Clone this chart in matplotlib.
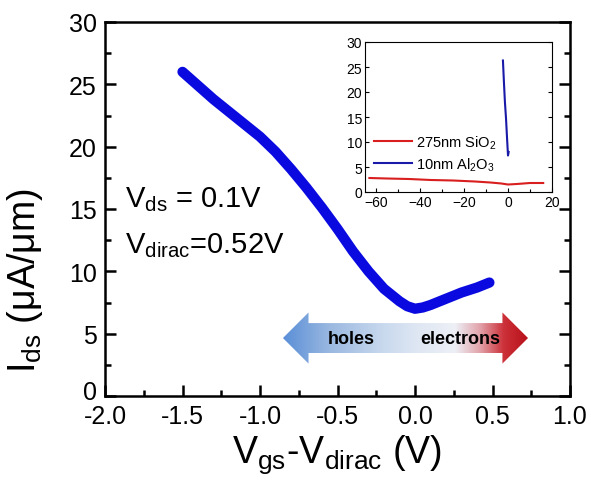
import numpy as np
import matplotlib
matplotlib.use("Agg")
from matplotlib import pyplot as plt
import matplotlib.transforms as mtransforms
from matplotlib.patches import Polygon
from matplotlib.colors import LinearSegmentedColormap
from matplotlib.ticker import MultipleLocator

plt.rcParams['font.family'] = ['Liberation Sans', 'DejaVu Sans']
plt.rcParams['mathtext.fontset'] = 'custom'
plt.rcParams['mathtext.rm'] = 'Liberation Sans'
plt.rcParams['mathtext.default'] = 'regular'

# Transfer curve, 10 nm Al2O3 top gate (Vds = 0.1 V)
vg_shifted = [-1.50, -1.40, -1.30, -1.20, -1.10, -1.00, -0.90, -0.80, -0.70, -0.60,
              -0.50, -0.40, -0.30, -0.20, -0.10, -0.05, 0.00, 0.05, 0.10, 0.20,
              0.30, 0.40, 0.48]
ids = [26.0, 24.9, 23.8, 22.8, 21.8, 20.8, 19.6, 18.2, 16.7, 15.1,
       13.4, 11.6, 10.0, 8.6, 7.6, 7.2, 7.0, 7.1, 7.3, 7.8,
       8.3, 8.7, 9.1]

# Inset: back gate (275 nm SiO2) vs top gate (10 nm Al2O3)
sio2_vg = [-63, -55, -45, -35, -25, -15, -8, -3, 0, 4, 10, 16]
sio2_ids = [2.8, 2.7, 2.6, 2.4, 2.3, 2.1, 1.9, 1.7, 1.5, 1.6, 1.8, 1.8]
al2o3_vg = [-2.3, -1.8, -1.4, -0.9, -0.4, 0.0, 0.3]
al2o3_ids = [26.3, 21.5, 18.0, 14.7, 10.5, 7.3, 8.0]

fig = plt.figure(figsize=(5.91, 4.85), dpi=100)
ax = fig.add_axes([105 / 591, 88 / 485, 465 / 591, 374 / 485])

ax.plot(vg_shifted, ids, color='#0a0ae0', lw=7.4, solid_capstyle='round', zorder=3)

ax.set_xlim(-2.0, 1.0)
ax.set_ylim(0, 30)
ax.xaxis.set_major_locator(MultipleLocator(0.5))
ax.xaxis.set_minor_locator(MultipleLocator(0.25))
ax.yaxis.set_major_locator(MultipleLocator(5))
ax.yaxis.set_minor_locator(MultipleLocator(2.5))
ax.xaxis.set_major_formatter(plt.FormatStrFormatter('%.1f'))
ax.tick_params(which='both', direction='in', right=True, top=False, width=1.8,
               labelsize=18, pad=6)
ax.tick_params(which='major', length=8)
ax.tick_params(which='minor', length=4)
for s in ax.spines.values():
    s.set_linewidth(1.8)

ax.set_xlabel(r'V$_{\rm gs}$-V$_{\rm dirac}$ (V)', fontsize=27, labelpad=3)
ax.set_ylabel(r'I$_{\rm ds}$ (μA/μm)', fontsize=27)
ax.yaxis.set_label_coords(-0.128, 0.31)

ax.text(-1.87, 15.2, r'V$_{\rm ds}$ = 0.1V', fontsize=21)
ax.text(-1.87, 11.5, r'V$_{\rm dirac}$=0.52V', fontsize=21)

# Double-headed gradient arrow: holes (left) / electrons (right)
x0, x1 = -0.852, 0.729
head = 0.165
yc, shaft_h, head_h = 4.65, 1.2, 2.05
arrow = Polygon([(x0, yc), (x0 + head, yc + head_h), (x0 + head, yc + shaft_h),
                 (x1 - head, yc + shaft_h), (x1 - head, yc + head_h), (x1, yc),
                 (x1 - head, yc - head_h), (x1 - head, yc - shaft_h),
                 (x0 + head, yc - shaft_h), (x0 + head, yc - head_h)],
                closed=True, facecolor='none', edgecolor='none')
ax.add_patch(arrow)
grad_cmap = LinearSegmentedColormap.from_list('carrier', [
    (0.0, '#5a8fd8'), (0.19, '#9ab8e0'), (0.41, '#c9d9ee'), (0.55, '#dfe7f3'),
    (0.70, '#edf0f6'), (0.80, '#e2a4ac'), (0.90, '#cc3038'), (1.0, '#b8101a')])
grad = ax.imshow(np.linspace(0, 1, 256)[None, :], cmap=grad_cmap, aspect='auto',
                 extent=[x0, x1, yc - head_h, yc + head_h], zorder=2)
grad.set_clip_path(arrow)
ax.text(-0.413, yc, 'holes', fontsize=13, fontweight='bold', ha='center', va='center', zorder=4)
ax.text(0.29, yc, 'electrons', fontsize=13, fontweight='bold', ha='center', va='center', zorder=4)
ax.set_xlim(-2.0, 1.0)
ax.set_ylim(0, 30)

# lift the "0" label a little so it clears "-2.0"
locs = list(ax.yaxis.get_majorticklocs())
zero_tick = ax.yaxis.get_major_ticks()[locs.index(0)]
zero_tick.label1.set_transform(zero_tick.label1.get_transform()
                               + mtransforms.ScaledTranslation(0, 5 / 72, fig.dpi_scale_trans))

# Inset
axi = fig.add_axes([365 / 591, 292 / 485, 187 / 591, 150 / 485])
axi.plot(sio2_vg, sio2_ids, color='#d81e1e', lw=1.5, label=r'275nm SiO$_2$')
axi.plot(al2o3_vg, al2o3_ids, color='#1a1aa8', lw=1.5, label=r'10nm Al$_2$O$_3$')
axi.set_xlim(-65, 20)
axi.set_ylim(0, 30)
axi.xaxis.set_major_locator(MultipleLocator(20))
axi.xaxis.set_minor_locator(MultipleLocator(10))
axi.yaxis.set_major_locator(MultipleLocator(5))
axi.tick_params(which='both', direction='in', right=True, labelsize=10, width=0.8, pad=2)
axi.tick_params(which='major', length=3)
axi.tick_params(which='minor', length=2)
for s in axi.spines.values():
    s.set_linewidth(0.8)
axi.legend(loc='lower left', bbox_to_anchor=(0.0, 0.07), frameon=False, fontsize=10.5,
           handlelength=2.6, handletextpad=0.3, labelspacing=0.3, borderaxespad=0.2)

fig.savefig('out.png', dpi=100)
